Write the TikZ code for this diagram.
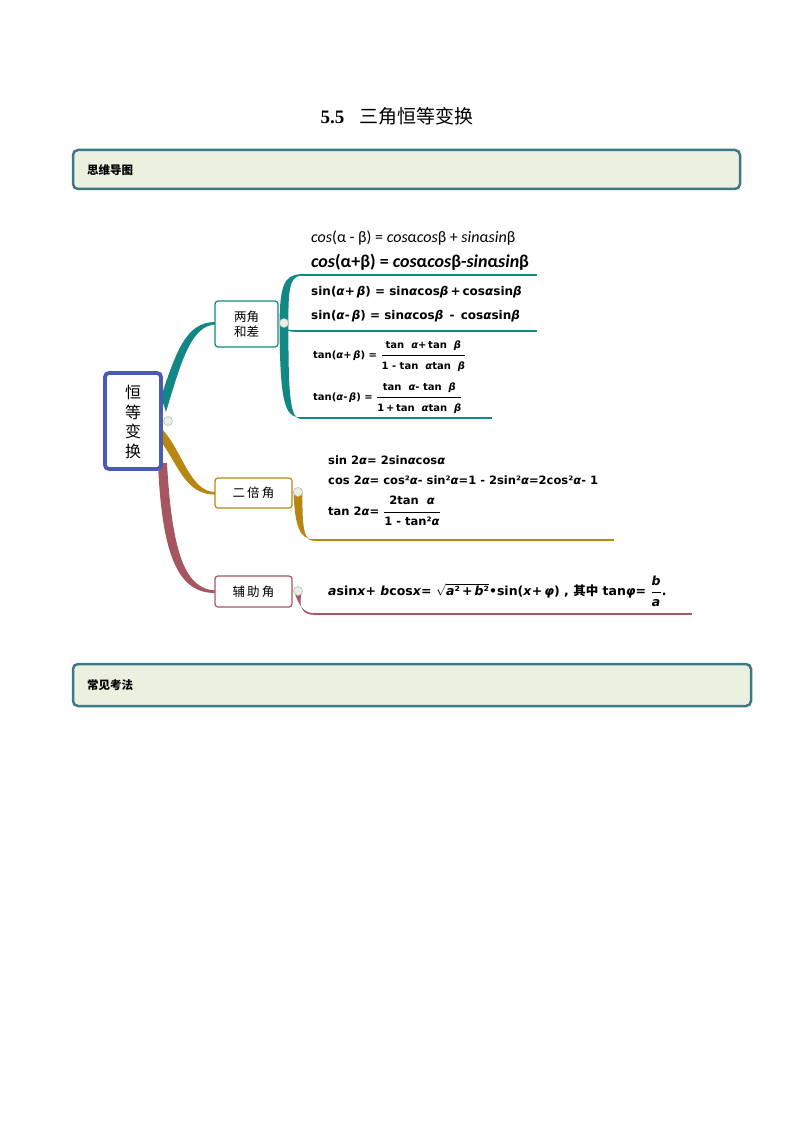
\documentclass[tikz,border=0pt]{standalone}
\usepackage{fontspec}
\setmainfont{Liberation Serif}
\newfontfamily\cjk{Noto Sans CJK SC}
\newfontfamily\fm{DejaVu Sans}
\newfontfamily\fc{Carlito}
\definecolor{tealc}{RGB}{18,136,132}
\definecolor{goldc}{RGB}{184,134,18}
\definecolor{redc}{RGB}{166,86,96}
\definecolor{rootc}{RGB}{72,92,176}
\definecolor{hdrc}{RGB}{62,120,134}
\definecolor{hdrf}{RGB}{235,241,222}
\definecolor{knob}{RGB}{232,240,228}
\newcommand\ga{\textit{α}}
\newcommand\gb{\textit{β}}
\newcommand\fr[2]{$\displaystyle\frac{\hbox{\rule[-6pt]{0pt}{10pt}#1}}{\hbox{\rule[-2pt]{0pt}{14.5pt}#2}}$}
\begin{document}
\begin{tikzpicture}[x=1pt,y=-1pt,
  hdr/.style={draw=hdrc,line width=2.5pt,rounded corners=5pt,fill=hdrf,inner sep=0pt},
  hdrtxt/.style={anchor=west,inner sep=0pt,font=\cjk\bfseries\fontsize{11.5}{13}\selectfont},
  topic/.style={line width=1.2pt,rounded corners=3pt,fill=white,inner sep=0pt,align=center,font=\cjk\fontsize{12.5}{15}\selectfont},
  knobstyle/.style={circle,draw=gray!55,line width=0.6pt,fill=knob,inner sep=0pt,minimum size=9pt},
  fb/.style={anchor=west,inner sep=0pt,font=\fm\bfseries\fontsize{12}{14}\selectfont},
  ft/.style={anchor=west,inner sep=0pt,font=\fm\bfseries\fontsize{10}{12}\selectfont},
  fg/.style={anchor=west,inner sep=0pt,font=\fm\bfseries\fontsize{11.5}{13}\selectfont}
]
\useasboundingbox (0,0) rectangle (794,1123);
\fill[white] (0,0) rectangle (794,1123);

% title
\node[inner sep=0pt] (title) at (397,116) {\fontsize{19}{21}\selectfont\textbf{5.5}\hspace{15pt}{\cjk 三角恒等变换}};

% headers
\node[hdr,minimum width=667pt,minimum height=39pt] (hd1) at (406.5,169.5) {};
\node[hdrtxt] (hd1t) at (87,170.5) {思维导图};
\node[hdr,minimum width=678pt,minimum height=42pt] (hd2) at (412,685) {};
\node[hdrtxt] (hd2t) at (87,685.5) {常见考法};

% coordinates for branches
\coordinate (t0a) at (161,397);
\coordinate (t0b) at (166,412);
\coordinate (t1a) at (215,322);
\coordinate (t1b) at (215,324.5);
\coordinate (g0a) at (162,429);
\coordinate (g0b) at (162,443);
\coordinate (g1a) at (215,492);
\coordinate (g1b) at (215,494.5);
\coordinate (r0a) at (158,463);
\coordinate (r0b) at (167,463);
\coordinate (r1a) at (215,590.5);
\coordinate (r1b) at (215,593);

% left branches (tapered)
\fill[tealc] (t0a) .. controls (176,352) and (186,322) .. (t1a) -- (t1b) .. controls (191,326) and (181,362) .. (t0b) -- cycle;
\fill[goldc] (g0a) .. controls (182,450) and (190,492) .. (g1a) -- (g1b) .. controls (186,495) and (178,465) .. (g0b) -- cycle;
\fill[redc] (r0a) .. controls (162,560) and (180,593) .. (r1b) -- (r1a) .. controls (186,589) and (172,555) .. (r0b) -- cycle;

% right side of branch 1 (bracket)
\coordinate (k1) at (284,323);
\coordinate (tl1s) at (300,275);
\coordinate (tl1e) at (537,275);
\coordinate (tl2s) at (297,331);
\coordinate (tl2e) at (537,331);
\coordinate (tl3s) at (300,418);
\coordinate (tl3e) at (492,418);
\fill[tealc] (279.5,323) .. controls (280,286) and (284,275.3) .. (300,274.2) -- (300,275.8) .. controls (290,277) and (288,290) .. (288.5,323) -- cycle;
\fill[tealc] (279.5,323) .. controls (280,400) and (284,417.2) .. (300,417.2) -- (300,418.8) .. controls (291,418) and (288,400) .. (288.5,323) -- cycle;
\fill[tealc] (284,326) .. controls (286,330.2) and (290,330.2) .. (297,330.2) -- (297,331.8) .. controls (288,332) and (284,330) .. (282,326) -- cycle;
\draw[tealc,line width=1.6pt] (tl1s) -- (tl1e);
\draw[tealc,line width=1.6pt] (tl2s) -- (tl2e);
\draw[tealc,line width=1.6pt] (tl3s) -- (tl3e);

% right side of branch 2
\coordinate (gl1s) at (314,540);
\coordinate (gl1e) at (614,540);
\fill[goldc] (293.5,492) .. controls (295,528) and (300,539.2) .. (314,539.2) -- (314,540.8) .. controls (304,541) and (302,528) .. (302.5,492) -- cycle;
\draw[goldc,line width=1.6pt] (gl1s) -- (gl1e);

% right side of branch 3
\coordinate (rl1s) at (314,614);
\coordinate (rl1e) at (692,614);
\fill[redc] (294,591) .. controls (299,606) and (304,613.2) .. (314,613.2) -- (314,614.8) .. controls (302,615) and (298,606) .. (302,591) -- cycle;
\draw[redc,line width=1.6pt] (rl1s) -- (rl1e);

% root
\node[draw=rootc,line width=3.8pt,rounded corners=4pt,fill=white,minimum width=56pt,minimum height=96pt,inner sep=0pt] (root) at (133,421) {};
\node[align=center,inner sep=0pt,font=\cjk\fontsize{16}{19.5}\selectfont] (roott) at (133,422) {恒\\等\\变\\换};

% topics
\node[topic,draw=tealc,minimum width=63pt,minimum height=46pt] (b1) at (246.5,324) {两角\\和差};
\node[topic,draw=goldc,minimum width=77pt,minimum height=30pt] (b2) at (253.5,493) {二\,倍\,角};
\node[topic,draw=redc,minimum width=77pt,minimum height=31pt] (b3) at (253.5,591.5) {辅\,助\,角};

% knobs
\node[knobstyle] (c0) at (168,421) {};
\node[knobstyle] (c1) at (k1) {};
\node[knobstyle] (c2) at (298,492) {};
\node[knobstyle] (c3) at (298,591) {};

% formulas branch 1
\node[anchor=west,inner sep=0pt,font=\fc\fontsize{16}{18}\selectfont] (f1) at (311,238) {\textit{cos}(α - β) = \textit{cos}α\textit{cos}β + \textit{sin}α\textit{sin}β};
\node[anchor=west,inner sep=0pt,font=\fc\bfseries\fontsize{18}{20}\selectfont] (f2) at (311,262) {\textit{cos}(α+β) = \textit{cos}α\textit{cos}β-\textit{sin}α\textit{sin}β};
\node[fb] (f3) at (311,292) {sin(\ga+\,\gb) = sin\ga cos\gb\,+\,cos\ga sin\gb};
\node[fb] (f4) at (311,316) {sin(\ga -\,\gb) = sin\ga cos\gb\, - \,cos\ga sin\gb};
\node[ft] (f5) at (313,356) {tan(\ga+\,\gb) = \fr{tan\ \ \ga+\,tan\ \ \gb}{1 - tan\ \ \ga tan\ \ \gb}};
\node[ft] (f6) at (313,398) {tan(\ga -\,\gb) = \fr{tan\ \ \ga - tan\ \ \gb}{1\,+\,tan\ \ \ga tan\ \ \gb}};

% formulas branch 2
\node[fg] (g1) at (328,460) {sin 2\ga= 2sin\ga cos\ga};
\node[fg] (g2) at (328,480) {cos 2\ga= cos²\ga - sin²\ga=1 - 2sin²\ga=2cos²\ga - 1};
\node[fg] (g3) at (328,512) {tan 2\ga= \fr{2tan\ \ \ga}{1 - tan²\ga}};

% formula branch 3
\node[anchor=west,inner sep=0pt,font=\fm\bfseries\fontsize{12.5}{14}\selectfont] (h1) at (328,592) {\textit{a}sin\textit{x}+ \textit{b}cos\textit{x}= $\sqrt{\hbox{\textit{a}²\,+\,\textit{b}²}}$•sin(\textit{x}+\,\textit{φ}) , {\cjk\bfseries 其中} tan\textit{φ}= \fr{\textit{b}}{\textit{a}}.};
\end{tikzpicture}
\end{document}
